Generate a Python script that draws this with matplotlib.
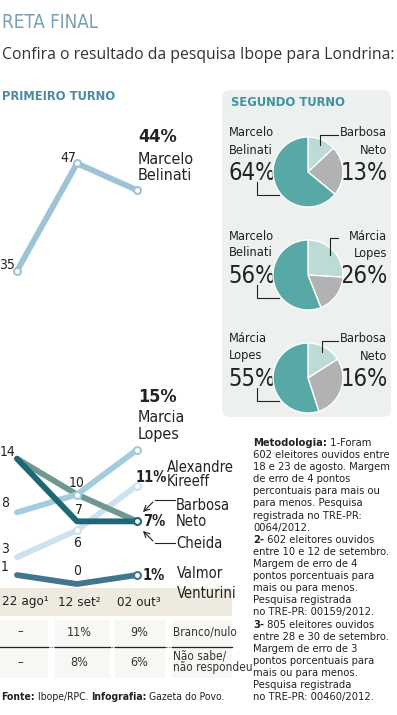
import math
import matplotlib
matplotlib.use('Agg')
import matplotlib.pyplot as plt
from matplotlib import font_manager as fm
from matplotlib.patches import Rectangle, FancyBboxPatch

# --- dados ---
datas = ['22 ago¹', '12 set²', '02 out³']
marcelo = [35, 47, 44]
marcia = [8, 10, 15]
kireeff = [3, 6, 11]
barbosa = [14, 7, 7]
cheida = [14, 10, 7]
valmor = [1, 0, 1]

branco_nulo = ['–', '11%', '9%']
nao_sabe = ['–', '8%', '6%']

seg_esq_nomes = ['Marcelo\nBelinati', 'Marcelo\nBelinati', 'Márcia\nLopes']
seg_esq_pct = [64, 56, 55]
seg_dir_nomes = ['Barbosa\nNeto', 'Márcia\nLopes', 'Barbosa\nNeto']
seg_dir_pct = [13, 26, 16]

nomes = set(f.name for f in fm.fontManager.ttflist)
COND = 'Liberation Sans Narrow' if 'Liberation Sans Narrow' in nomes else 'DejaVu Sans'
plt.rcParams['font.family'] = [COND, 'DejaVu Sans']
plt.rcParams['font.stretch'] = 'condensed'

W, H = 397, 715
fig = plt.figure(figsize=(W / 100, H / 100), dpi=100)

def px_axes(x0, y0, x1, y1):
    return fig.add_axes([x0 / W, 1 - y1 / H, (x1 - x0) / W, (y1 - y0) / H])

# fundo
bg = px_axes(0, 0, W, H)
bg.set_xlim(0, W); bg.set_ylim(H, 0); bg.axis('off')
bg.add_patch(FancyBboxPatch((222, 90), 169, 327, boxstyle='round,pad=0,rounding_size=8',
                            fc='#ecf1ef', ec='none'))
bg.add_patch(Rectangle((0, 588), 232, 28, fc='#efeadf', ec='none'))
for x0, x1 in [(0, 48), (55, 110), (115, 165), (172, 232)]:
    bg.add_patch(Rectangle((x0, 620), x1 - x0, 58, fc='#f8f7f4', ec='none'))

# linhas - primeiro turno
lc = px_axes(0, 120, 232, 616)
lc.set_xlim(-17 / 60, 215 / 60)
lc.set_ylim(-32 / 8.95, 464 / 8.95)
lc.axis('off')
x = range(len(datas))
series = [
    (kireeff, '#cde2ec', [1, 2]),
    (cheida, '#6f9990', []),
    (marcia, '#a4cbde', [1, 2]),
    (barbosa, '#1e6875', [2]),
    (valmor, '#42768e', [2]),
    (marcelo, '#9dc4d6', [0, 1, 2]),
]
for vals, cor, mk in series:
    lc.plot(x, vals, color=cor, lw=4.2, solid_capstyle='round', solid_joinstyle='round',
            marker='o', markevery=mk, ms=5, mfc='white', mec=cor, mew=1.5)

num_kw = dict(textcoords='offset pixels', va='center', fontsize=10, color='#222222')
for t, xy, off, ha in [
    ('35', (0, 35), (-2, 6), 'right'), ('47', (1, 47), (-1, 5), 'right'),
    ('14', (0, 14), (-2, 7), 'right'), ('8', (0, 8), (-8, 9), 'right'),
    ('3', (0, 3), (-8, 8), 'right'), ('1', (0, 1), (-8, 8), 'right'),
    ('10', (1, 10), (0, 12), 'center'), ('7', (1, 7), (2, 11), 'center'),
    ('6', (1, 6), (0, -13), 'center'), ('0', (1, 0), (0, 13), 'center'),
]:
    lc.annotate(t, xy=xy, xytext=off, ha=ha, **num_kw)

# sobreposicao (textos)
ax = px_axes(0, 0, W, H)
ax.set_xlim(0, W); ax.set_ylim(H, 0); ax.axis('off')

def txt(x, y, s, size=10, bold=False, color='#222222', ha='left', **kw):
    return ax.text(x, y, s, fontsize=size, fontweight='bold' if bold else 'normal',
                   color=color, ha=ha, va='center', **kw)

txt(2, 22, 'RETA FINAL', size=13.5, color='#7a9fb0')
txt(2, 55, 'Confira o resultado da pesquisa Ibope para Londrina:', size=11.3,
    color='#333333', family=['Open Sans', 'DejaVu Sans'], fontstretch='normal')
txt(2, 97, 'PRIMEIRO TURNO', size=9.3, bold=True, color='#4a8ca6')
txt(231, 103, 'SEGUNDO TURNO', size=9.3, bold=True, color='#3d93a3')

txt(138, 137, '44%', size=13, bold=True)
txt(138, 159, 'Marcelo', size=11.5); txt(138, 176, 'Belinati', size=11.5)
txt(138, 397, '15%', size=13, bold=True)
txt(138, 417, 'Marcia', size=11.5); txt(138, 434, 'Lopes', size=11.5)
txt(136, 477, '11%', size=10.5, bold=True)
txt(167, 467, 'Alexandre', size=10.5); txt(167, 482, 'Kireeff', size=10.5)
txt(143, 521, '7%', size=10.5, bold=True)
txt(176, 506, 'Barbosa', size=10.5); txt(176, 522, 'Neto', size=10.5)
txt(176, 543, 'Cheida', size=10.5)
txt(143, 575, '1%', size=10.5, bold=True)
txt(177, 574, 'Valmor', size=10.5); txt(177, 593, 'Venturini', size=10.5)

# setas Barbosa / Cheida
ax.plot([155, 175], [500, 500], color='#222222', lw=0.8)
ax.annotate('', xy=(141, 514), xytext=(155, 500),
            arrowprops=dict(arrowstyle='->', lw=0.8, color='#222222'))
ax.plot([155, 175], [543, 543], color='#222222', lw=0.8)
ax.annotate('', xy=(141, 529), xytext=(155, 543),
            arrowprops=dict(arrowstyle='->', lw=0.8, color='#222222'))

# eixo de datas
for d, xc in zip(datas, [25, 79, 139]):
    txt(xc, 602, d, size=9.6, ha='center')

# tabela
for a, b, xc in zip(branco_nulo, nao_sabe, [20, 79, 139]):
    txt(xc, 632, a, size=9, ha='center', color='#333333')
    txt(xc, 663, b, size=9, ha='center', color='#333333')
txt(173, 632, 'Branco/nulo', size=8.5, color='#333333')
txt(173, 656, 'Não sabe/', size=8.5, color='#333333')
txt(173, 668, 'não respondeu', size=8.5, color='#333333')
ax.plot([0, 232], [647, 647], color='#444444', lw=0.6, ls=(0, (1, 1)))
for x0, x1 in [(0, 48), (55, 110), (115, 165), (172, 232)]:
    ax.plot([x0, x1], [647, 647], color='#222222', lw=0.9)

# segundo turno - pizzas
cores = ['#bcdbd5', '#b2b2b4', '#58a8a5']
centros = [(308, 172), (308, 275), (308, 378)]
r = 35
for (cx, cy), pe, pd, ne, nd in zip(centros, seg_esq_pct, seg_dir_pct,
                                    seg_esq_nomes, seg_dir_nomes):
    pa = fig.add_axes([(cx - 1.25 * r) / W, 1 - (cy + 1.25 * r) / H,
                       2.5 * r / W, 2.5 * r / H])
    pa.pie([pd, 100 - pe - pd, pe], colors=cores, startangle=90, counterclock=False,
           wedgeprops=dict(ec='white', lw=1))
    n1, n2 = ne.split('\n')
    txt(229, cy - 39, n1, size=9.2); txt(229, cy - 22, n2, size=9.2)
    txt(228, cy + 1, f'{pe}%', size=17)
    n1, n2 = nd.split('\n')
    txt(387, cy - 39, n1, size=9.2, ha='right'); txt(387, cy - 22, n2, size=9.2, ha='right')
    txt(388, cy + 1, f'{pd}%', size=17, ha='right')

# guias (desenhadas por cima)
top = px_axes(0, 0, W, H)
top.set_xlim(0, W); top.set_ylim(H, 0); top.axis('off')
for (cx, cy), pd in zip(centros, seg_dir_pct):
    ang = math.radians(pd / 2 * 3.6)
    ex, ey = cx + 0.85 * r * math.sin(ang), cy - 0.85 * r * math.cos(ang)
    top.plot([ex, ex, 338], [ey, cy - 37, cy - 37], color='#222222', lw=0.8)
    top.plot([257, 257, cx - 29], [cy + 10, cy + 23, cy + 23], color='#222222', lw=0.8)

# metodologia
met = [
    ('Metodologia:', ' 1-Foram'),
    ('', '602 eleitores ouvidos entre'),
    ('', '18 e 23 de agosto. Margem'),
    ('', 'de erro de 4 pontos'),
    ('', 'percontuais para mais ou'),
    ('', 'para menos. Pesquisa'),
    ('', 'registrada no TRE-PR:'),
    ('', '0064/2012.'),
    ('2-', ' 602 eleitores ouvidos'),
    ('', 'entre 10 e 12 de setembro.'),
    ('', 'Margem de erro de 4'),
    ('', 'pontos porcentuais para'),
    ('', 'mais ou para menos.'),
    ('', 'Pesquisa registrada'),
    ('', 'no TRE-PR: 00159/2012.'),
    ('3-', ' 805 eleitores ouvidos'),
    ('', 'entre 28 e 30 de setembro.'),
    ('', 'Margem de erro de 3'),
    ('', 'pontos porcentuais para'),
    ('', 'mais ou para menos.'),
    ('', 'Pesquisa registrada'),
    ('', 'no TRE-PR: 00460/2012.'),
]

def bold_rest(x, y, partes, size):
    prev = None
    for i, p in enumerate(partes):
        if not p:
            continue
        w = 'bold' if i % 2 == 0 else 'normal'
        if prev is None:
            prev = top.text(x, y, p, fontsize=size, fontweight=w, color='#222222',
                            ha='left', va='center')
        else:
            prev = top.annotate(p, xy=(1, 0), xycoords=prev, fontsize=size, fontweight=w,
                                color='#222222', ha='left', va='bottom')

for i, (b, t) in enumerate(met):
    bold_rest(253, 443 + 12.1 * i, [b, t], 8.0)

bold_rest(1, 697, ['Fonte:', ' Ibope/RPC. ', 'Infografia:', ' Gazeta do Povo.'], 7.5)

fig.savefig('out.png', dpi=100)
